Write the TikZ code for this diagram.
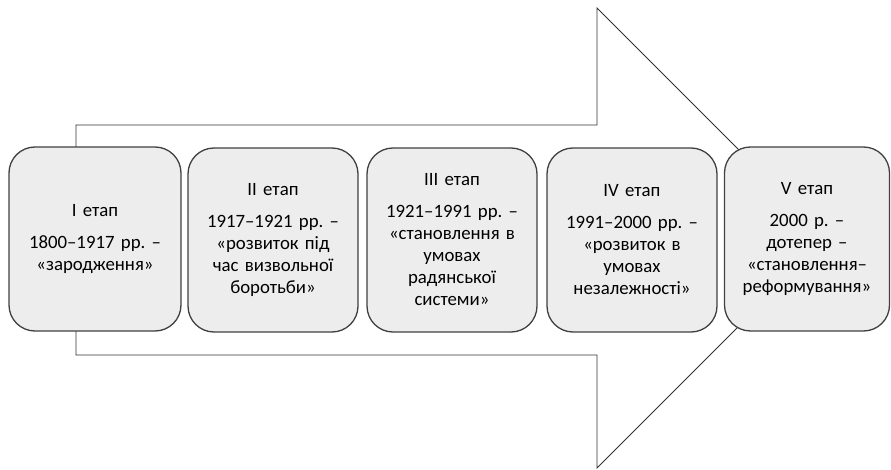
\documentclass[tikz,border=0pt]{standalone}
\usepackage{fontspec}
\setmainfont{Carlito}
\frenchspacing
\begin{document}
\begin{tikzpicture}[x=1pt, y=-1pt, stage/.style={draw=black!75, line width=1.3pt, fill=black!7, rounded corners=26pt, minimum width=170pt, minimum height=184pt, text width=160pt, align=center, inner sep=0pt, font=\fontsize{18.8}{22}\selectfont}]

\useasboundingbox (0,0) rectangle (891,470);

\draw[black!80, line width=0.9pt, fill=white] (76,125) -- (597,125) -- (597,8) -- (827,238) -- (597,468) -- (597,355) -- (76,355) -- cycle;

\node[stage, minimum width=172pt] at (95,239) (s1) {I етап\\[10pt]1800--1917 рр. --\\«зародження»};
\node[stage] at (273,240) (s2) {II етап\\[10pt]1917--1921 рр. --\\«розвиток під\\час визвольної\\боротьби»};
\node[stage] at (452,240) (s3) {III етап\\[10pt]1921--1991 рр. --\\«становлення в\\умовах\\радянської\\системи»};
\node[stage] at (632,240) (s4) {IV етап\\[10pt]1991--2000 рр. --\\«розвиток в\\умовах\\незалежності»};
\node[stage, minimum width=165pt] at (807,239) (s5) {V етап\\[10pt]2000 р. --\\дотепер --\\«становлення--\\реформування»};

\end{tikzpicture}
\end{document}
